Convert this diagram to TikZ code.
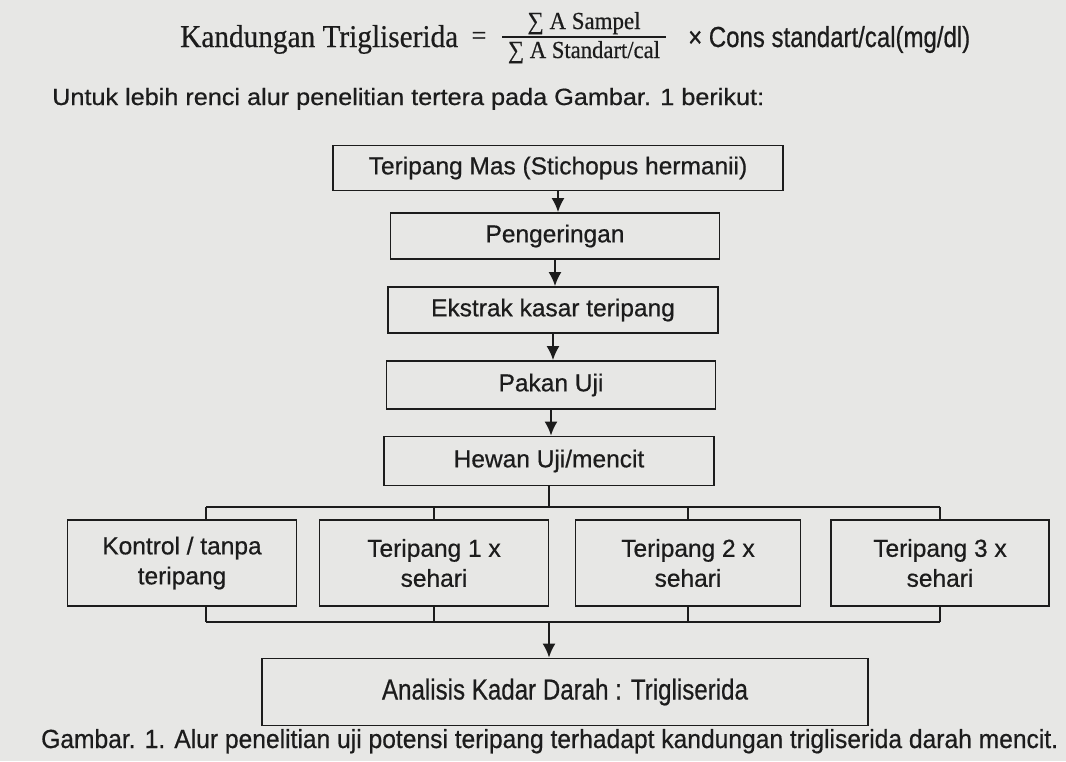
\documentclass[tikz,border=0pt]{standalone}
\usepackage{graphicx}
\usepackage{fontspec}
\setmainfont{Liberation Sans}[FakeBold=0.6]
\newfontfamily\serfont{Liberation Serif}[FakeBold=0.5]
\usetikzlibrary{arrows.meta}
\definecolor{paper}{RGB}{231,231,229}
\definecolor{ink}{RGB}{28,28,28}

\begin{document}
\begin{tikzpicture}[x=1pt,y=-1pt,
  box/.style={draw=ink,line width=1.8pt,inner sep=0pt,align=center,text=ink,
    font=\fontsize{24.5}{30}\selectfont},
  txt/.style={inner sep=0pt,text=ink},
  link/.style={draw=ink,line width=1.8pt},
  arr/.style={link,-{Latex[length=14pt,width=13pt]}}]
\useasboundingbox (0,0) rectangle (1066,761);
\fill[paper] (0,0) rectangle (1066,761);
%formula
\node[txt,anchor=base west] (lhs) at (180,47)
  {\resizebox{278pt}{22pt}{\serfont\fontsize{30}{34}\selectfont Kandungan Trigliserida}};
\node[txt] (eq) at (479,38) {\serfont\fontsize{26}{30}\selectfont =};
\node[txt,anchor=base] (num) at (584,29)
  {\resizebox{113pt}{17pt}{\serfont\fontsize{22}{26}\selectfont ∑ A Sampel}};
\node[txt,anchor=base] (den) at (584,58)
  {\resizebox{152pt}{17pt}{\serfont\fontsize{22}{26}\selectfont ∑ A Standart/cal}};
\draw[ink,line width=1.4pt] (502,37) -- (666,37);
\node[txt,anchor=base west] (rhs) at (688,47)
  {\resizebox{282pt}{21pt}{\fontsize{24}{28}\selectfont × Cons standart/cal(mg/dl)}};
%intro line
\node[txt,anchor=base west] (intro) at (52,105)
  {\resizebox{712pt}{17pt}{\fontsize{24}{28}\selectfont Untuk lebih renci alur penelitian tertera pada Gambar. 1 berikut:}};
%main column
\node[box,minimum width=450pt,minimum height=45pt] (mas) at (558,168) {Teripang Mas (Stichopus hermanii)};
\node[box,minimum width=329pt,minimum height=46pt] (peng) at (555,236) {Pengeringan};
\node[box,minimum width=330pt,minimum height=46pt] (ekstrak) at (553,310) {Ekstrak kasar teripang};
\node[box,minimum width=329pt,minimum height=48pt] (pakan) at (551,385) {Pakan Uji};
\node[box,minimum width=330pt,minimum height=49pt] (hewan) at (549,461) {Hewan Uji/mencit};
\draw[arr] (mas.south) -- (mas.south |- peng.north);
\draw[arr] (peng.south) -- (peng.south |- ekstrak.north);
\draw[arr] (ekstrak.south) -- (ekstrak.south |- pakan.north);
\draw[arr] (pakan.south) -- (pakan.south |- hewan.north);
%groups
\node[box,minimum width=229pt,minimum height=86pt] (kontrol) at (182,563) {Kontrol / tanpa\\teripang};
\node[box,minimum width=229pt,minimum height=86pt] (t1) at (434,563) {Teripang 1 x\\sehari};
\node[box,minimum width=225pt,minimum height=86pt] (t2) at (688,563) {Teripang 2 x\\sehari};
\node[box,minimum width=218pt,minimum height=86pt] (t3) at (940,563) {Teripang 3 x\\sehari};
%upper bus
\coordinate (bl) at (206,507);
\coordinate (br) at (940,507);
\draw[link] (bl) -- (br);
\draw[link] (hewan.south) -- (hewan.south |- bl);
\draw[link] (bl) -- (bl |- kontrol.north);
\draw[link] (t1.north) -- (t1.north |- bl);
\draw[link] (t2.north) -- (t2.north |- bl);
\draw[link] (t3.north) -- (t3.north |- bl);
%lower bus
\coordinate (cl) at (206,622);
\coordinate (cr) at (940,622);
\draw[link] (cl) -- (cr);
\draw[link] (cl |- kontrol.south) -- (cl);
\draw[link] (t1.south) -- (t1.south |- cl);
\draw[link] (t2.south) -- (t2.south |- cl);
\draw[link] (t3.south) -- (t3.south |- cl);
%result
\node[box,minimum width=606pt,minimum height=67pt] (anal) at (565,692)
  {\resizebox{366pt}{21pt}{Analisis Kadar Darah : Trigliserida}};
\draw[arr] (hewan.south |- cl) -- (hewan.south |- anal.north);
%caption
\node[txt,anchor=base west] (cap) at (41,748)
  {\resizebox{1017pt}{19pt}{\fontsize{24}{28}\selectfont Gambar. 1. Alur penelitian uji potensi teripang terhadapt kandungan trigliserida darah mencit.}};
\end{tikzpicture}
\end{document}
